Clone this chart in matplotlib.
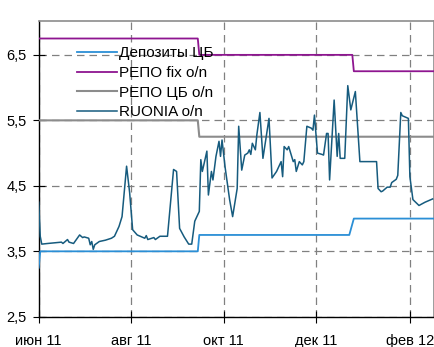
import matplotlib
matplotlib.use('Agg')
import matplotlib.pyplot as plt
import pandas as pd

# CBR corridor rates (step changes)
dep_dates = ['2011-06-01', '2011-06-02', '2011-09-14', '2011-09-15',
             '2011-12-23', '2011-12-26', '2012-02-17']
dep_vals = [3.25, 3.5, 3.5, 3.75, 3.75, 4.0, 4.0]

fix_dates = ['2011-06-01', '2011-09-14', '2011-09-15',
             '2011-12-25', '2011-12-26', '2012-02-17']
fix_vals = [6.75, 6.75, 6.5, 6.5, 6.25, 6.25]

repo_dates = ['2011-06-01', '2011-09-14', '2011-09-15', '2012-02-17']
repo_vals = [5.5, 5.5, 5.25, 5.25]

# RUONIA overnight rate
ruonia_dates = [
    '2011-06-01', '2011-06-02', '2011-06-03', '2011-06-07', '2011-06-16', '2011-06-17',
    '2011-06-20', '2011-06-21', '2011-06-24', '2011-06-28', '2011-06-30', '2011-07-01',
    '2011-07-04', '2011-07-05', '2011-07-06', '2011-07-07', '2011-07-08', '2011-07-11',
    '2011-07-13', '2011-07-15', '2011-07-19', '2011-07-21', '2011-07-24', '2011-07-26',
    '2011-07-29', '2011-07-31', '2011-08-02', '2011-08-05', '2011-08-08', '2011-08-10',
    '2011-08-11', '2011-08-12', '2011-08-16', '2011-08-17', '2011-08-20', '2011-08-25',
    '2011-08-29', '2011-08-31', '2011-09-02', '2011-09-05', '2011-09-08', '2011-09-10',
    '2011-09-12', '2011-09-15', '2011-09-16', '2011-09-17', '2011-09-20', '2011-09-21',
    '2011-09-23', '2011-09-24', '2011-09-26', '2011-09-28', '2011-09-29', '2011-09-30',
    '2011-10-02', '2011-10-05', '2011-10-07', '2011-10-10', '2011-10-11', '2011-10-13',
    '2011-10-15', '2011-10-17', '2011-10-18', '2011-10-19', '2011-10-20', '2011-10-22',
    '2011-10-23', '2011-10-25', '2011-10-27', '2011-10-31', '2011-11-02', '2011-11-05',
    '2011-11-07', '2011-11-08', '2011-11-09', '2011-11-10', '2011-11-12', '2011-11-13',
    '2011-11-16', '2011-11-17', '2011-11-18', '2011-11-20', '2011-11-22', '2011-11-23',
    '2011-11-25', '2011-11-28', '2011-11-29', '2011-11-30', '2011-12-02', '2011-12-05',
    '2011-12-06', '2011-12-08', '2011-12-09', '2011-12-10', '2011-12-13', '2011-12-15',
    '2011-12-16', '2011-12-17', '2011-12-20', '2011-12-22', '2011-12-24', '2011-12-27',
    '2011-12-30', '2012-01-10', '2012-01-11', '2012-01-13', '2012-01-14', '2012-01-17',
    '2012-01-19', '2012-01-20', '2012-01-23', '2012-01-24', '2012-01-26', '2012-01-27',
    '2012-01-29', '2012-01-31', '2012-02-01', '2012-02-03', '2012-02-07', '2012-02-11',
    '2012-02-16',
]
ruonia_vals = [
    4.25, 3.73, 3.61, 3.62, 3.64, 3.62,
    3.68, 3.64, 3.62, 3.75, 3.71, 3.72,
    3.70, 3.60, 3.65, 3.53, 3.60, 3.65,
    3.66, 3.67, 3.70, 3.73, 3.88, 4.03,
    4.80, 4.40, 3.83, 3.75, 3.72, 3.70,
    3.74, 3.68, 3.71, 3.68, 3.73, 3.73,
    4.75, 4.72, 3.85, 3.72, 3.61, 3.61,
    3.96, 4.11, 4.90, 4.72, 5.03, 4.36,
    4.72, 4.59, 4.95, 5.18, 4.95, 5.20,
    4.79, 4.29, 4.03, 4.46, 5.41, 4.74,
    4.97, 5.00, 5.05, 4.98, 5.15, 5.05,
    5.28, 5.62, 4.92, 5.53, 4.62, 4.72,
    4.82, 4.87, 4.64, 5.10, 5.05, 5.10,
    4.87, 4.90, 4.72, 4.87, 4.82, 4.87,
    5.41, 5.38, 5.35, 5.58, 5.00, 4.98,
    4.97, 5.30, 5.30, 4.59, 5.81, 4.95,
    5.30, 4.92, 4.92, 6.03, 5.66, 5.94,
    4.87, 4.87, 4.46, 4.41, 4.42, 4.48,
    4.48, 4.55, 4.60, 4.66, 5.62, 5.57,
    5.55, 5.53, 4.64, 4.29, 4.20, 4.25,
    4.30,
]

tick_dates = ['2011-06-01', '2011-08-01', '2011-10-01', '2011-12-01', '2012-02-01']
tick_labels = ['июн 11', 'авг 11', 'окт 11', 'дек 11', 'фев 12']
y_ticks = [2.5, 3.5, 4.5, 5.5, 6.5]

plt.rcParams['font.family'] = ['Liberation Sans', 'DejaVu Sans']
plt.rcParams['font.size'] = 10

fig = plt.figure(figsize=(4.35, 3.47), dpi=100)
ax = fig.add_axes([0.089, 0.087, 0.909, 0.853])

ax.plot(pd.to_datetime(dep_dates), dep_vals, color='#2b8fd6', lw=1.3, label='Депозиты ЦБ', zorder=3)
ax.plot(pd.to_datetime(fix_dates), fix_vals, color='#8e1590', lw=1.3, label='РЕПО fix o/n', zorder=3)
ax.plot(pd.to_datetime(repo_dates), repo_vals, color='#8c8c8c', lw=1.5, label='РЕПО ЦБ o/n', zorder=3)
ax.plot(pd.to_datetime(ruonia_dates), ruonia_vals, color='#165b7e', lw=1.1, label='RUONIA o/n', zorder=4)

ax.set_xlim(pd.Timestamp('2011-06-01'), pd.Timestamp('2012-02-17'))
ax.set_ylim(2.5, 7.02)

ax.set_xticks(pd.to_datetime(tick_dates))
ax.set_xticklabels(tick_labels)
ax.set_yticks(y_ticks)
ax.set_yticklabels([f'{v:.1f}'.replace('.', ',') for v in y_ticks])
ax.tick_params(direction='inout', length=8, width=0.8, labelsize=10.5)
ax.tick_params(axis='y', pad=4.5)
ax.tick_params(axis='x', pad=8.5)

ax.grid(True, color='#808080', lw=0.9, linestyle=(0, (6, 4)))
ax.set_axisbelow(True)

for side in ['top', 'right']:
    ax.spines[side].set_color('#8c8c8c')
    ax.spines[side].set_linewidth(1.2)
for side in ['left', 'bottom']:
    ax.spines[side].set_color('black')
    ax.spines[side].set_linewidth(1.0)

ax.legend(loc='upper left', bbox_to_anchor=(0.097, 0.914), frameon=False,
          fontsize=11, handlelength=2.6, handletextpad=0.15,
          labelspacing=0.37, borderpad=0, borderaxespad=0)

fig.savefig('out.png', dpi=100)
